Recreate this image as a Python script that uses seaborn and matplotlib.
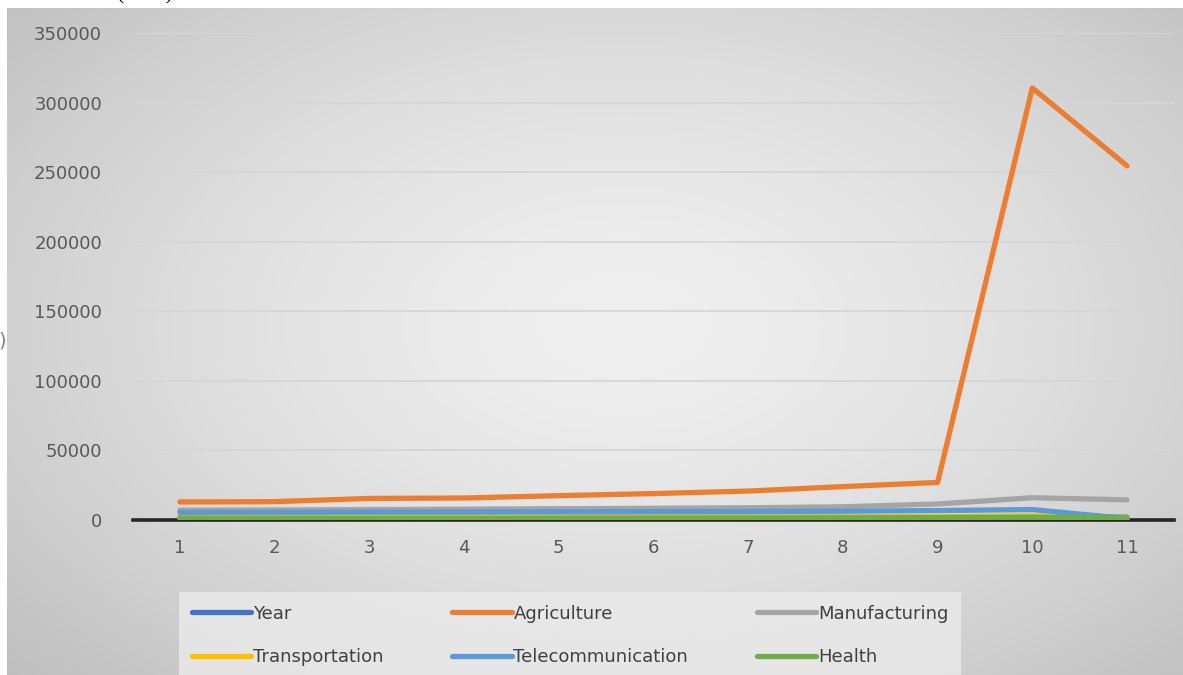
import numpy as np
import pandas as pd
import matplotlib
matplotlib.use("Agg")
import matplotlib.pyplot as plt
import seaborn as sns

# %%
# values
periods = [1, 2, 3, 4, 5, 6, 7, 8, 9, 10, 11]
year = [2006, 2007, 2008, 2009, 2010, 2011, 2012, 2013, 2014, 2015, 2016]
agriculture = [13000, 13200, 15500, 15800, 17500, 19000, 20800, 24000, 27000, 310500, 254500]
manufacturing = [7000, 7200, 7500, 7800, 8100, 8400, 8800, 9500, 11500, 16000, 14500]
transportation = [1500, 1600, 1700, 1800, 1900, 2000, 2100, 2200, 2500, 3000, 1500]
telecommunication = [5500, 5600, 5700, 5800, 5900, 6000, 6100, 6300, 6800, 7500, 1000]
health = [1000, 1100, 1200, 1200, 1300, 1400, 1500, 1600, 1800, 2000, 1500]

series_names = ["Year", "Agriculture", "Manufacturing", "Transportation",
                "Telecommunication", "Health"]
series_vals = [year, agriculture, manufacturing, transportation, telecommunication, health]
palette = ["#4472C4", "#ED7D31", "#A5A5A5", "#FFC000", "#5B9BD5", "#70AD47"]

df = pd.concat([
    pd.DataFrame({"period": periods, "value": v, "series": n})
    for n, v in zip(series_names, series_vals)
], ignore_index = True)

# %%
sns.set_style("white")
plt.rcParams["font.family"] = ["DejaVu Sans"]

W, H = 1183, 675
fig = plt.figure(figsize = (W / 100, H / 100), dpi = 100)
fig.patch.set_facecolor("white")

# gray radial gradient panel behind the chart (Excel style)
bg = fig.add_axes([7 / W, 0, 1 - 7 / W, 1 - 8 / H])
gx, gy = np.meshgrid(np.linspace(-1, 1, 400), np.linspace(-1, 1, 300))
r = np.sqrt(((gx - 0.05) / 1.15) ** 2 + ((gy + 0.05) / 1.25) ** 2)
shade = 0.94 - 0.14 * np.clip(r, 0, 1.4) ** 1.5
bg.imshow(np.dstack([shade] * 3), aspect = "auto", extent = [0, 1, 0, 1])
bg.set_axis_off()

# main plot area
ax = fig.add_axes([132.6 / W, (H - 520) / H, 1041.8 / W, 487 / H])
ax.patch.set_alpha(0)
sns.lineplot(data = df, x = "period", y = "value", hue = "series",
             hue_order = series_names, palette = palette, linewidth = 3.8,
             ax = ax, zorder = 3)

ax.set_xlim(0.5, 11.5)
ax.set_ylim(0, 350000)
ax.set_xticks(periods)
ax.set_yticks(np.arange(0, 350001, 50000))
ax.set_xlabel("")
ax.set_ylabel("")
ax.tick_params(axis = "both", length = 0, labelsize = 13, labelcolor = "#595959")
ax.tick_params(axis = "x", pad = 14)
ax.tick_params(axis = "y", pad = 22)
ax.yaxis.grid(True, color = "#d6d6d6", linewidth = 1.3)
ax.set_axisbelow(True)
for s in ["top", "right", "left"]:
    ax.spines[s].set_visible(False)
ax.spines["bottom"].set_color("#262626")
ax.spines["bottom"].set_linewidth(2.6)
ax.spines["bottom"].set_zorder(1)

# legend filled row by row like Excel: reorder for column-major layout
handles, labels = ax.get_legend_handles_labels()
order = [0, 3, 1, 4, 2, 5]
leg = ax.legend([handles[i] for i in order], [labels[i] for i in order],
                loc = "upper left", bbox_to_anchor = (170 / W, 0, 800 / W, 92 / H),
                bbox_transform = fig.transFigure, mode = "expand",
                ncol = 3, frameon = True, fontsize = 13, handlelength = 3.3, handletextpad = 0.1,
                columnspacing = 1.0, labelspacing = 1.4, borderpad = 0.7)
leg.get_frame().set_facecolor("#ebebeb")
leg.get_frame().set_edgecolor("none")
leg.get_frame().set_alpha(0.8)
leg.get_frame().set_boxstyle("square", pad = 0)
for t in leg.get_texts():
    t.set_color("#404040")

# caption clipped at the top edge, as in the source screenshot, and stray fragment on the left
fig.text(0.0, 1 + 5 / H, "Source: CBN (2017)", fontsize = 15, family = "Liberation Serif",
         color = "black", va = "center", ha = "left", zorder = -1)
fig.text(-2 / W, 1 - 341 / H, ")", fontsize = 14, color = "#808080", va = "center", ha = "left")

fig.savefig("out.png", dpi = 100)
